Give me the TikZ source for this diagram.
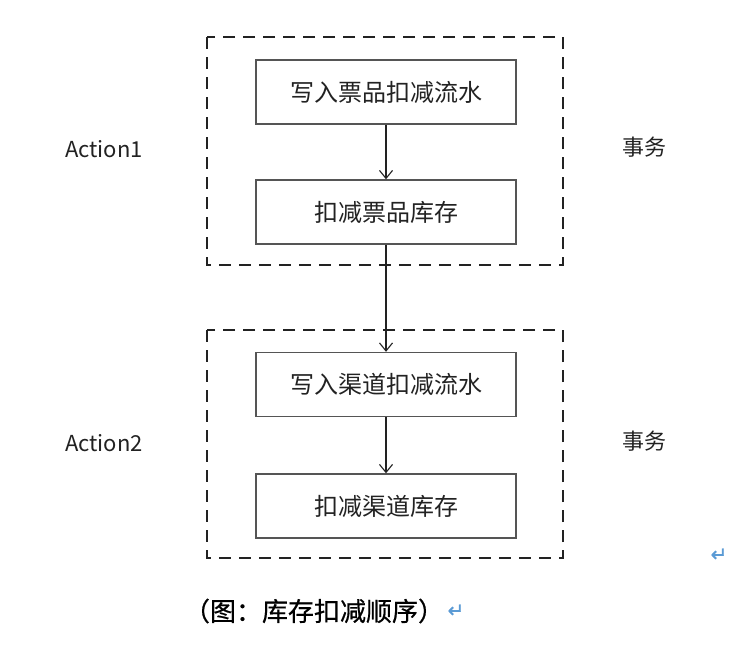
\documentclass[tikz,border=0pt]{standalone}
\usepackage{fontspec}
\setmainfont{Noto Sans CJK SC}
\newfontfamily\cjk{Noto Sans CJK SC}
\newfontfamily\cjkheavy[FakeBold=0.6]{Noto Sans CJK SC}
\newfontfamily\symfont[FakeBold=1]{DejaVu Sans}
\usetikzlibrary{arrows.meta}
\definecolor{linegray}{HTML}{555555}
\definecolor{txtgray}{HTML}{222222}
\definecolor{retblue}{HTML}{5B9BD5}
\tikzset{
  stepbox/.style={draw=linegray, line width=1.4pt, minimum width=260pt, minimum height=64pt, inner sep=0pt, font=\cjk\fontsize{24}{28}\selectfont, text=txtgray},
  groupbox/.style={draw=txtgray, line width=1.5pt, dash pattern=on 12pt off 8pt},
  flow/.style={draw=txtgray, line width=1.1pt, -{Straight Barb[length=8pt,width=13pt]}},
  sidelabel/.style={font=\cjk\fontsize{22}{26}\selectfont, text=txtgray},
  retmark/.style={font=\symfont\fontsize{20}{22}\selectfont, text=retblue, inner sep=0pt}
}
\begin{document}
\begin{tikzpicture}[x=1pt,y=-1pt]
\useasboundingbox[fill=white] (0,0) rectangle (730,654);
% group boxes
\draw[groupbox] (207,37) rectangle (563,265);
\draw[groupbox] (207,330) rectangle (563,558);
% steps
\node[stepbox] (a) at (386,92) {写入票品扣减流水};
\node[stepbox] (b) at (386,212) {扣减票品库存};
\node[stepbox] (c) at (386,384.5) {写入渠道扣减流水};
\node[stepbox] (d) at (386,506) {扣减渠道库存};
\draw[flow] (a) -- (b);
\draw[flow] (b) -- (c);
\draw[flow] (c) -- (d);
% side labels
\node[sidelabel] (act1) at (104,149) {Action1};
\node[sidelabel] (tx1) at (644,147) {事务};
\node[sidelabel] (act2) at (104,443) {Action2};
\node[sidelabel] (tx2) at (644,441) {事务};
% caption
\node[font=\cjkheavy\fontsize{26}{30}\selectfont, text=black] (cap) at (314,611) {（图：库存扣减顺序）};
\node[retmark] (r1) at (456,611) {↵};
\node[retmark] (r2) at (719,555) {↵};
\end{tikzpicture}
\end{document}
